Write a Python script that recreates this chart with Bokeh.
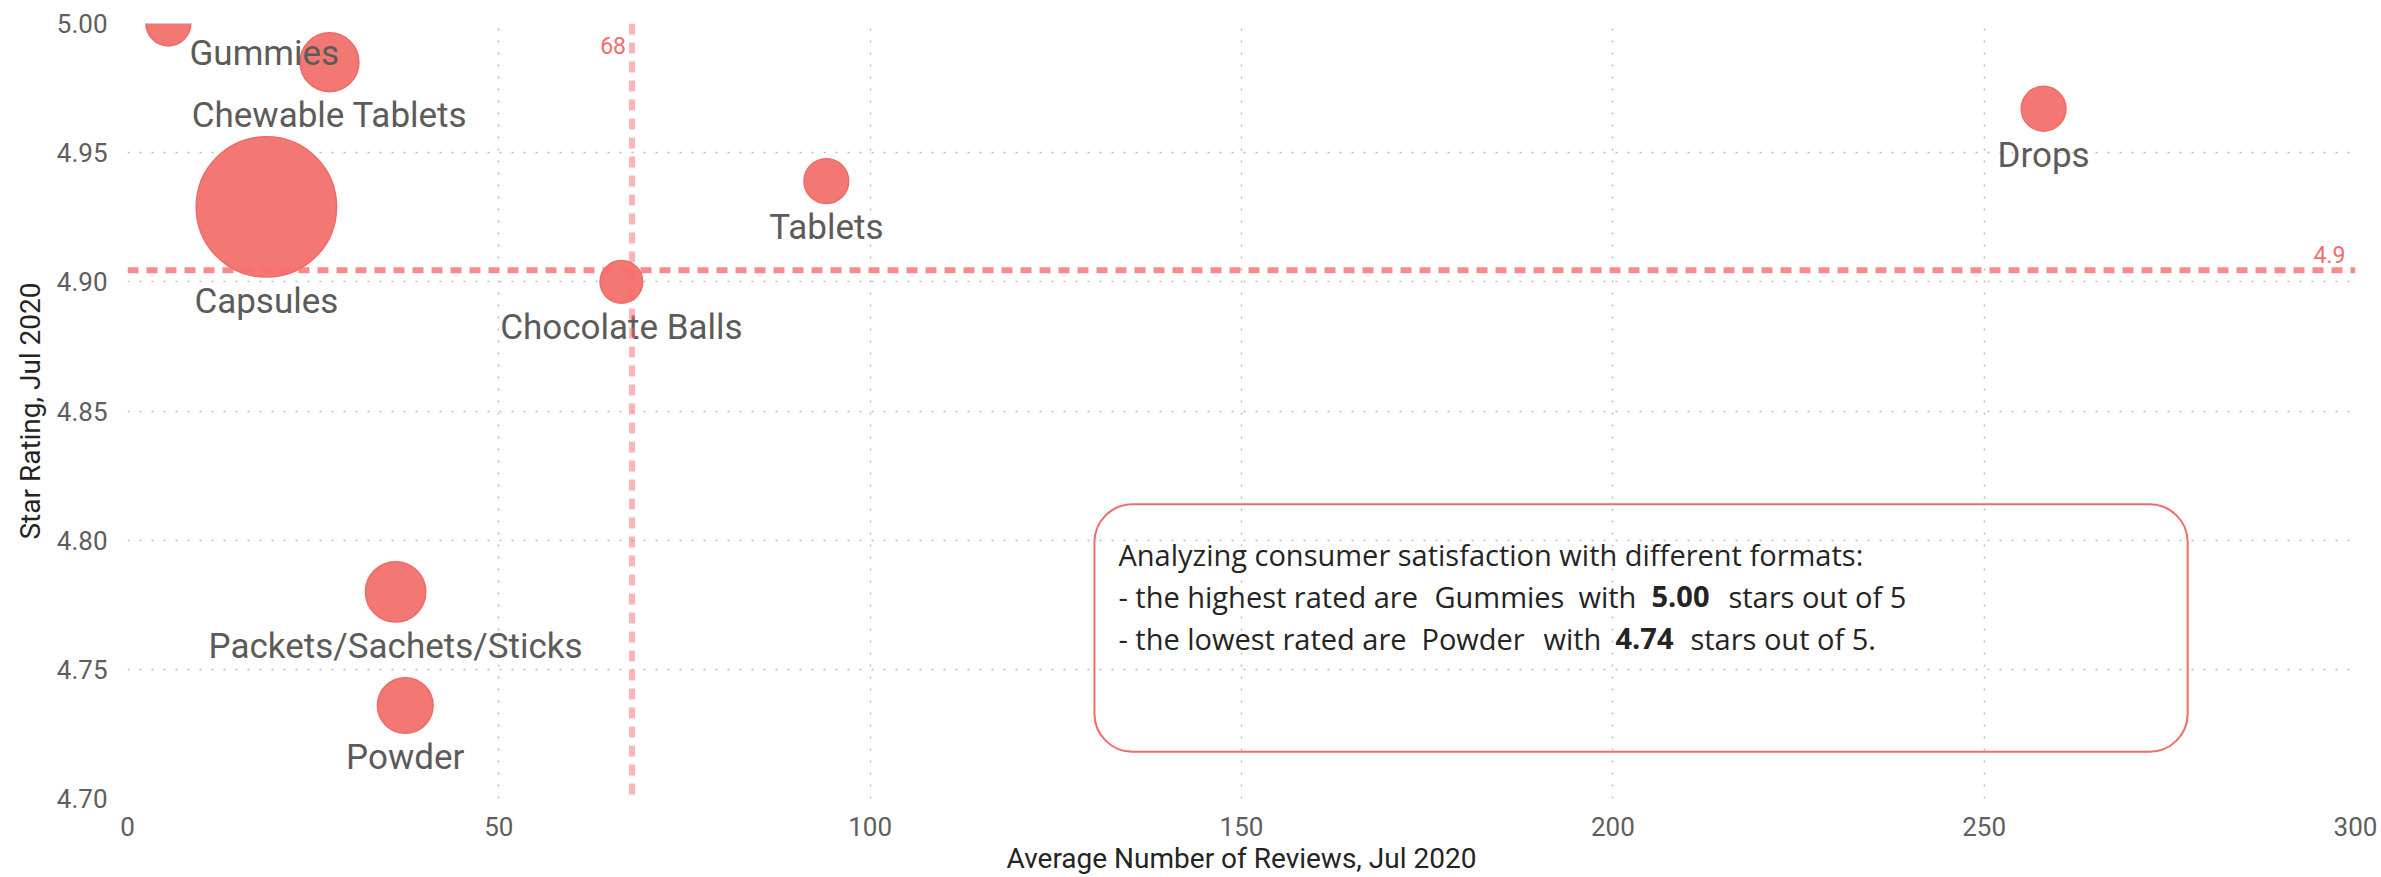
import numpy as np
from bokeh.plotting import figure
from bokeh.models import (ColumnDataSource, FixedTicker, PrintfTickFormatter, Span,
                          BoxAnnotation, Range1d)
from bokeh.core.properties import value
from bokeh.embed import file_html
from bokeh.resources import INLINE

# ---------------- data ----------------
formats = ["Gummies", "Chewable Tablets", "Capsules", "Chocolate Balls",
           "Tablets", "Drops", "Packets/Sachets/Sticks", "Powder"]
avg_reviews = [5.5, 27.2, 18.7, 66.5, 94.1, 258.0, 36.1, 37.4]
star_rating = [5.000, 4.985, 4.929, 4.900, 4.939, 4.967, 4.780, 4.736]
product_count = [11, 19, 108, 10, 11, 11, 20, 17]

x_ticks = [0, 50, 100, 150, 200, 250, 300]
y_ticks = [4.70, 4.75, 4.80, 4.85, 4.90, 4.95, 5.00]

x_title = "Average Number of Reviews, Jul 2020"
y_title = "Star Rating, Jul 2020"

# ---------------- layout / style ----------------
BUBBLE_K = 13.5           # diameter px per sqrt(count)
label_dx = [96, 0, 0, 0, 0, 0, 0, 0]         # label shifts (px)
label_dy_extra = [-16, 0, 0, 0, 0, 0, 0, 0]  # label vertical tweak (px)

LABEL_FONT = "Roboto"
TEXT_FONT = "Open Sans"
GREY = "#5D5B59"
DARK = "#252423"
RED = "#F26D6D"

mean_x = float(np.mean(avg_reviews))
mean_y = float(np.mean(star_rating))

diam = [BUBBLE_K * np.sqrt(c) for c in product_count]
lab_off = [d / 2 + 24 + e for d, e in zip(diam, label_dy_extra)]

src = ColumnDataSource(dict(x=avg_reviews, y=star_rating, name=formats,
                            size=diam, dy=lab_off, dx=label_dx))

p = figure(width=2381, height=877, output_backend="svg", toolbar_location=None,
           x_range=Range1d(0, 300), y_range=Range1d(4.70, 5.00),
           min_border_left=127, min_border_right=26, min_border_top=23,
           min_border_bottom=77)
p.outline_line_color = None
p.background_fill_color = "white"
p.border_fill_color = "white"

# axes
p.xaxis.ticker = FixedTicker(ticks=x_ticks)
p.yaxis.ticker = FixedTicker(ticks=y_ticks)
p.yaxis.formatter = PrintfTickFormatter(format="%.2f")
for ax in (p.xaxis[0], p.yaxis[0]):
    ax.axis_line_color = None
    ax.major_tick_line_color = None
    ax.minor_tick_line_color = None
    ax.major_tick_out = 0
    ax.major_tick_in = 0
    ax.minor_tick_out = 0
    ax.major_label_text_font = LABEL_FONT
    ax.major_label_text_font_size = "26px"
    ax.major_label_text_color = "#605E5C"
    ax.axis_label_text_font = LABEL_FONT
    ax.axis_label_text_font_size = "28px"
    ax.axis_label_text_font_style = "normal"
    ax.axis_label_text_color = DARK
p.xaxis.axis_label = x_title
p.yaxis.axis_label = y_title
p.xaxis.major_label_standoff = 18
p.xaxis.axis_label_standoff = 3
p.yaxis.major_label_standoff = 20
p.yaxis.axis_label_standoff = 7

# grid
for g in (p.xgrid[0], p.ygrid[0]):
    g.grid_line_color = "#BDBBB9"
    g.grid_line_dash = "2 10"
    g.grid_line_width = 1.5
p.xgrid.ticker = FixedTicker(ticks=x_ticks)
p.ygrid.ticker = FixedTicker(ticks=y_ticks)

# bubbles
p.scatter("x", "y", size="size", source=src, fill_color="#F37874",
          line_color="#EE6A66", line_width=1.5, fill_alpha=1.0)

# bubble labels
p.text("x", "y", text="name", source=src, x_offset="dx", y_offset="dy",
       text_align="center", text_baseline="alphabetic",
       text_font=value(LABEL_FONT), text_font_size="35px", text_color=GREY)

# reference lines
p.add_layout(Span(location=mean_x, dimension="height", line_color="#F96B6B",
                  line_alpha=0.5, line_width=6, line_dash="11 8"))
p.add_layout(Span(location=mean_y, dimension="width", line_color="#FA6E6E",
                  line_alpha=0.8, line_width=6, line_dash="11 8"))
p.text(x=[mean_x], y=[5.0], text=[f"{mean_x:.0f}"], x_offset=-6, y_offset=22,
       text_align="right", text_baseline="alphabetic",
       text_font=value(LABEL_FONT), text_font_size="23px", text_color=RED)
p.text(x=[300], y=[mean_y], text=[f"{mean_y:.1f}"], x_offset=-10, y_offset=-16,
       text_align="right", text_baseline="alphabetic",
       text_font=value(LABEL_FONT), text_font_size="23px", text_color=RED)

# annotation text box
box_l, box_r, box_t, box_b = 130.2, 277.4, 4.8139, 4.7181
p.add_layout(BoxAnnotation(left=box_l, right=box_r, top=box_t, bottom=box_b,
                           fill_color=None, fill_alpha=0, line_color="#F06B6B",
                           line_alpha=1.0, line_width=2, border_radius=38))

imax = int(np.argmax(star_rating))
imin = int(np.argmin(star_rating))
segments = [
    # text, x offset, y offset, bold
    ("Analyzing consumer satisfaction with different formats:", 24, 50, False),
    ("- the highest rated are", 24, 92, False),
    (formats[imax], 340, 92, False),
    ("with", 484, 92, False),
    (f"{star_rating[imax]:.2f}", 557, 92, True),
    ("stars out of 5", 634, 92, False),
    ("- the lowest rated are", 24, 134, False),
    (formats[imin], 327, 134, False),
    ("with", 449, 134, False),
    (f"{star_rating[imin]:.2f}", 521, 134, True),
    ("stars out of 5.", 596, 134, False),
]
for bold in (False, True):
    segs = [s for s in segments if s[3] == bold]
    p.text(x=[box_l] * len(segs), y=[box_t] * len(segs),
           text=[s[0] for s in segs], x_offset=[s[1] for s in segs],
           y_offset=[s[2] for s in segs], text_align="left",
           text_baseline="alphabetic", text_font=value(TEXT_FONT),
           text_font_size="29px", text_color=DARK,
           text_font_style="bold" if bold else "normal")

open("out.html", "w").write(file_html(p, INLINE))
